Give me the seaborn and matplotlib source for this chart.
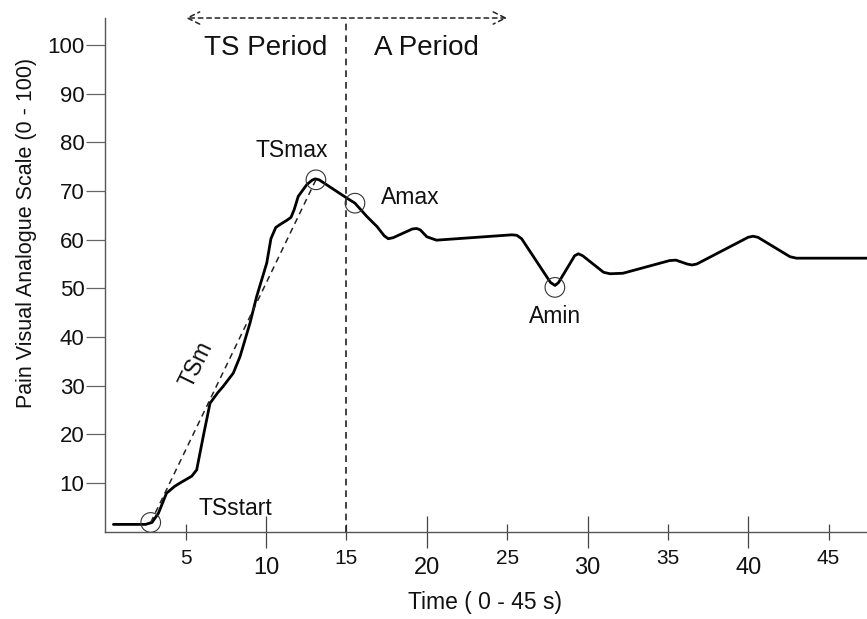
import numpy as np
import pandas as pd
import matplotlib
matplotlib.use("Agg")
import matplotlib.pyplot as plt
from matplotlib import font_manager
import seaborn as sns

# ---- data ----
time_s = [0.5, 2.5, 2.9, 3.3, 3.8, 4.3, 4.64, 5.37, 5.68, 6.09, 6.51, 7.0, 7.34, 7.96,
          8.38, 9.0, 9.41, 10.04, 10.3, 10.6, 10.86, 11.3, 11.55, 11.75, 12.0, 12.53,
          12.85, 13.05, 13.3, 15.0, 15.53, 16.26, 16.9, 17.35, 17.6, 17.9, 18.1, 19.1,
          19.37, 19.6, 20.0, 20.6, 25.3, 25.6, 25.9, 27.7, 27.98, 28.2, 29.2, 29.43,
          29.7, 31.0, 31.4, 32.2, 35.1, 35.5, 36.2, 36.5, 36.8, 40.0, 40.3, 40.6, 42.6,
          43.0, 47.5]
pain_vas = [1.5, 1.5, 1.9, 3.8, 7.9, 9.3, 10.0, 11.4, 12.7, 19.6, 26.4, 28.6, 29.9, 32.6,
            36.0, 42.9, 48.3, 55.2, 60.2, 62.5, 63.1, 64.0, 64.6, 66.2, 68.9, 71.3,
            72.2, 72.5, 72.3, 68.6, 67.5, 64.8, 62.7, 60.8, 60.2, 60.4, 60.7, 62.2,
            62.3, 62.0, 60.6, 59.9, 61.0, 60.9, 60.2, 51.2, 50.6, 51.2, 56.7, 57.1,
            56.7, 53.3, 53.0, 53.1, 55.7, 55.8, 55.0, 54.8, 55.0, 60.5, 60.7, 60.5, 56.5,
            56.2, 56.2]

key_names = ["TSstart", "TSmax", "Amax", "Amin"]
key_x = [2.82, 13.1, 15.53, 27.97]
key_y = [1.9, 72.3, 67.5, 50.2]

major_xticks = [10, 20, 30, 40]
minor_xticks = [5, 15, 25, 35, 45]
yticks = [10, 20, 30, 40, 50, 60, 70, 80, 90, 100]
period_split = 15
period_arrow = (5, 25)

df = pd.DataFrame({"time": time_s, "vas": pain_vas})
keys = pd.DataFrame({"name": key_names, "time": key_x, "vas": key_y})

# ---- style ----
sns.set_theme(style="white")
avail = {f.name for f in font_manager.fontManager.ttflist}
narrow = "Liberation Sans Narrow" if "Liberation Sans Narrow" in avail else "Liberation Sans"
plt.rcParams["font.family"] = ["Liberation Sans", "DejaVu Sans"]

W, H = 867, 619
fig = plt.figure(figsize=(W / 100, H / 100), dpi=100)
ax_left, ax_right, ax_top, ax_bot = 105.4, 867, 18, 531.7
ax = fig.add_axes([ax_left / W, 1 - ax_bot / H, (ax_right - ax_left) / W, (ax_bot - ax_top) / H])

xmax = (ax_right - ax_left) / 16.07
ymax = (ax_bot - ax_top) / 4.867
ax.set_xlim(0, xmax)
ax.set_ylim(0, ymax)

sns.lineplot(data=df, x="time", y="vas", ax=ax, color="black", lw=2.0,
             sort=False, estimator=None)
for l in ax.get_lines():
    l.set_solid_joinstyle("round")
    l.set_solid_capstyle("round")

# TSm dashed slope line
ax.plot([key_x[0], key_x[1]], [key_y[0], key_y[1]], color="#222", lw=1.1,
        dashes=(4, 3))

# open circles
sns.scatterplot(data=keys, x="time", y="vas", ax=ax, s=200, facecolor="none",
                edgecolor="#333", linewidth=0.8, zorder=5, legend=False)

# vertical divider
ax.plot([period_split, period_split], [0, ymax], color="#222", lw=1.2,
        dashes=(4, 3), clip_on=False)

# period arrow
ax.annotate("", xy=(period_arrow[0], ymax), xytext=(period_arrow[1], ymax),
            arrowprops=dict(arrowstyle="<->", color="#222", lw=1.1,
                            linestyle=(0, (3, 2.5)), shrinkA=0, shrinkB=0,
                            mutation_scale=22),
            annotation_clip=False)

ax.text(10, 97.9, "TS Period", ha="center", va="baseline", fontsize=20, color="#111")
ax.text(20, 97.9, "A Period", ha="center", va="baseline", fontsize=20, color="#111")

ax.text(11.58, 77.0, "TSmax", ha="center", va="baseline", fontsize=16.5, color="#111")
ax.text(18.95, 67.3, "Amax", ha="center", va="baseline", fontsize=16.5, color="#111")
ax.text(27.98, 42.9, "Amin", ha="center", va="baseline", fontsize=16.5, color="#111")
ax.text(8.07, 3.4, "TSstart", ha="center", va="baseline", fontsize=16.5, color="#111")
ax.text(5.65, 34.4, "TSm", ha="center", va="center", fontsize=16.5, color="#111",
        rotation=64, rotation_mode="anchor")

# spines
for s in ["top", "right"]:
    ax.spines[s].set_visible(False)
for s in ["left", "bottom"]:
    ax.spines[s].set_color("#555")
    ax.spines[s].set_linewidth(1.0)

# y ticks
ax.set_yticks(yticks)
ax.set_yticklabels([str(v) for v in yticks])
ax.tick_params(axis="y", direction="out", length=13.5, width=0.9, color="#666",
               pad=1.5, labelsize=16, labelcolor="#111", left=True)

# x ticks: alternating long/short, inout
ax.set_xticks(major_xticks)
ax.set_xticklabels([str(v) for v in major_xticks], fontfamily=narrow)
ax.set_xticks(minor_xticks, minor=True)
ax.set_xticklabels([str(v) for v in minor_xticks], minor=True, fontfamily=narrow)
ax.tick_params(axis="x", which="major", direction="inout", length=22.5, width=0.9,
               color="#444", pad=7.0, labelsize=17, labelcolor="#111", bottom=True)
ax.tick_params(axis="x", which="minor", direction="inout", length=11.5, width=0.9,
               color="#444", pad=7.0, labelsize=15, labelcolor="#111", bottom=True)

ax.set_xlabel("")
ax.set_ylabel("")
fig.text(27 / W, 1 - 233 / H, "Pain Visual Analogue Scale (0 - 100)", rotation=90,
         ha="center", va="center", fontsize=15.5, color="#111")
fig.text(485 / W, 1 - 603 / H, "Time ( 0 - 45 s)", ha="center", va="center",
         fontsize=16.5, color="#111", fontfamily=narrow)

fig.savefig("out.png", dpi=100)
